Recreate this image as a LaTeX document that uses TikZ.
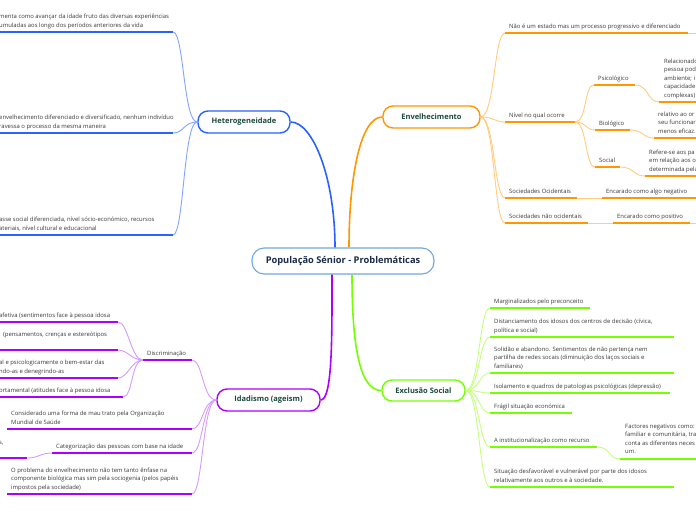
\documentclass[tikz,border=0pt]{standalone}
\usepackage{fontspec}
\setmainfont{Open Sans}
\definecolor{hetD}{HTML}{2962FF}
\definecolor{hetL}{HTML}{82A6FF}
\definecolor{envD}{HTML}{FF9800}
\definecolor{envL}{HTML}{FFCC80}
\definecolor{excD}{HTML}{76FF03}
\definecolor{excL}{HTML}{C6FF80}
\definecolor{idaD}{HTML}{AA00FF}
\definecolor{idaL}{HTML}{D69BFF}
\definecolor{leafT}{HTML}{3A3A3A}
\definecolor{mainT}{HTML}{1B4A3C}
\definecolor{cenT}{HTML}{1C2B4A}
\definecolor{cenB}{HTML}{6FA8DC}
\tikzset{
  leaf/.style={inner sep=0pt, anchor=base west, align=left, text=leafT,
    font=\fontsize{5.9}{8.5}\selectfont},
  mainnode/.style={draw, rounded corners=10pt, line width=1.4pt, fill=white,
    text=mainT, font=\fontsize{7.5}{9}\selectfont\bfseries, inner sep=0pt},
  hetU/.style={draw=hetD, line width=1.8pt},
  hetC/.style={draw=hetL, line width=0.9pt},
  envU/.style={draw=envD, line width=1.8pt},
  envC/.style={draw=envL, line width=0.9pt},
  excU/.style={draw=excD, line width=1.8pt},
  excC/.style={draw=excL, line width=0.9pt},
  idaU/.style={draw=idaD, line width=1.8pt},
  idaC/.style={draw=idaL, line width=0.9pt},
}
\newcommand\ul[5]{\coordinate (#1a) at (#2,#4); \coordinate (#1b) at (#3,#4); \draw[#5] (#1a) -- (#1b);}
\begin{document}
\begin{tikzpicture}[x=1pt,y=-1pt]
\useasboundingbox[fill=white] (0,0) rectangle (696,520);

% ---------- main nodes
\node[draw=cenB, line width=1.1pt, rounded corners=12pt, fill=white, minimum width=182pt, minimum height=26pt,
  inner sep=0pt, text=cenT, font=\fontsize{9.3}{11}\selectfont\bfseries] (cen) at (343,261) {População Sénior - Problemáticas};
\node[mainnode, draw=hetD, minimum width=92pt, minimum height=22pt] (het) at (244,122) {Heterogeneidade};
\node[mainnode, draw=envD, minimum width=97pt, minimum height=22pt] (env) at (431.5,117) {Envelhecimento};
\node[mainnode, draw=excD, minimum width=83pt, minimum height=21pt] (exc) at (423.5,390.5) {Exclusão Social};
\node[mainnode, draw=idaD, minimum width=103pt, minimum height=22pt] (ida) at (268.5,400) {Idadismo (ageism)};

% main connectors
\draw[draw=hetD, line width=1.6pt] (het.east) .. controls +(22,0) and +(0,-70) .. ([xshift=-8pt]cen.north);
\draw[draw=envD, line width=1.6pt] (env.west) .. controls +(-22,0) and +(0,-70) .. ([xshift=6pt]cen.north);
\draw[draw=idaD, line width=1.6pt] (ida.east) .. controls +(12,0) and +(0,60) .. ([xshift=-11pt]cen.south);
\draw[draw=excD, line width=1.6pt] (exc.west) .. controls +(-22,0) and +(0,70) .. ([xshift=9pt]cen.south);

% ---------- Heterogeneidade
\ul{h1}{0}{173}{32}{hetU}
\ul{h2}{0}{173}{133}{hetU}
\ul{h3}{0}{173}{235}{hetU}
\node[leaf] (h1t) at (-1,27) {menta como avançar da idade fruto das diversas experiências\\umuladas aos longo dos períodos anteriores da vida};
\node[leaf] (h2t) at (-1,128) {envelhecimento diferenciado e diversificado, nenhum indivíduo\\ravessa o processo da mesma maneira};
\node[leaf] (h3t) at (-1,230) {asse social diferenciada, nível sócio-económico, recursos\\ateriais, nível cultural e educacional};
\foreach \c in {h1b,h2b,h3b}
  \draw[hetC] (het.west) .. controls +(-14,0) and +(11,0) .. (\c);

% ---------- Envelhecimento
\ul{e1}{505}{688}{33}{envU}
\ul{e2}{505}{575}{122}{envU}
\ul{e3}{505}{577}{198}{envU}
\ul{e4}{505}{588}{223}{envU}
\coordinate (e1x) at (700,33);
\draw[envC] (e1b) -- (e1x);
\node[leaf] (e1t) at (509,28) {Não é um estado mas um processo progressivo e diferenciado};
\node[leaf] (e2t) at (509,117) {Nível no qual ocorre};
\node[leaf] (e3t) at (509,193) {Sociedades Ocidentais};
\node[leaf] (e4t) at (509,218) {Sociedades não ocidentais};
\foreach \c in {e1a,e2a,e3a,e4a}
  \draw[envC] (env.east) .. controls +(14,0) and +(-11,0) .. (\c);

\ul{ps}{594}{635}{85}{envU}
\ul{bi}{595}{630}{130}{envU}
\ul{so}{595}{620}{167}{envU}
\node[leaf] (pst) at (598,80) {Psicológico};
\node[leaf] (bit) at (599,125) {Biológico};
\node[leaf] (sot) at (599,162) {Social};
\foreach \c in {psa,bia,soa}
  \draw[envC] (e2b) .. controls +(12,0) and +(-10,0) .. (\c);

\ul{psl}{659}{700}{102}{envU}
\ul{bil}{654}{700}{138}{envU}
\ul{sol}{645}{700}{176}{envU}
\node[leaf] (pslt) at (664,97) {Relacionado\\pessoa pod\\ambiente; i\\capacidade\\complexas)};
\node[leaf] (bilt) at (658,133) {relativo ao or\\seu funcionar\\menos eficaz.};
\node[leaf] (solt) at (649,171) {Refere-se aos pa\\em relação aos o\\determinada pela};
\draw[envC] (psb) .. controls +(14,0) and +(-12,0) .. (psla);
\draw[envC] (bib) .. controls +(14,0) and +(-12,0) .. (bila);
\draw[envC] (sob) .. controls +(14,0) and +(-12,0) .. (sola);

\ul{e3l}{602}{696}{198}{envU}
\ul{e4l}{613}{690}{223}{envU}
\node[leaf] (e3lt) at (606,193) {Encarado como algo negativo};
\node[leaf] (e4lt) at (617,218) {Encarado como positivo};
\coordinate (e4x) at (700,223);
\draw[envC] (e3b) -- (e3la);
\draw[envC] (e4b) -- (e4la);
\draw[envC] (e4lb) -- (e4x);

% ---------- Exclusão Social
\ul{x1}{490}{590}{308}{excU}
\ul{x2}{490}{674}{337}{excU}
\ul{x3}{490}{674}{373}{excU}
\ul{x4}{490}{670}{393}{excU}
\ul{x5}{490}{572}{413}{excU}
\ul{x6}{490}{597}{447}{excU}
\ul{x7}{490}{674}{487}{excU}
\node[leaf] (x1t) at (494,303) {Marginalizados pelo preconceito};
\node[leaf] (x2t) at (494,332) {Distanciamento dos idosos dos centros de decisão (cívica,\\política e social)};
\node[leaf] (x3t) at (494,368) {Solidão e abandono. Sentimentos de não pertença nem\\partilha de redes socais (diminuição dos laços sociais e\\familiares)};
\node[leaf] (x4t) at (494,388) {Isolamento e quadros de patologias psicológicas (depressão)};
\node[leaf] (x5t) at (494,408) {Frágil situação económica};
\node[leaf] (x6t) at (494,442) {A institucionalização como recurso};
\node[leaf] (x7t) at (494,482) {Situação desfavorável e vulnerável por parte dos idosos\\relativamente aos outros e à sociedade.};
\foreach \c in {x1a,x2a,x3a,x4a,x5a,x6a,x7a}
  \draw[excC] (exc.east) .. controls +(14,0) and +(-11,0) .. (\c);
\ul{x6l}{620}{700}{459}{excU}
\node[leaf] (x6lt) at (625,453.5) {Factores negativos como:\\familiar e comunitária, tra\\conta as diferentes neces\\um.};
\draw[excC] (x6b) .. controls +(14,0) and +(-12,0) .. (x6la);

% ---------- Idadismo
\ul{i0}{143}{192}{360}{idaU}
\ul{i1}{7}{192}{429}{idaU}
\ul{i2}{52}{192}{453}{idaU}
\ul{i3}{7}{192}{494}{idaU}
\node[leaf] (i0t) at (147,355) {Discriminação};
\node[leaf] (i1t) at (11,424) {Considerado uma forma de mau trato pela Organização\\Mundial de Saúde};
\node[leaf] (i2t) at (56,448) {Categorização das pessoas com base na idade};
\node[leaf] (i3t) at (11,489) {O problema do envelhecimento não tem tanto ênfase na\\componente biológica mas sim pela sociogenia (pelos papéis\\impostos pela sociedade)};
\foreach \c in {i0b,i1b,i2b,i3b}
  \draw[idaC] (ida.west) .. controls +(-14,0) and +(11,0) .. (\c);

\ul{d1}{0}{118}{322}{idaU}
\ul{d2}{0}{118}{350}{idaU}
\ul{d3}{0}{118}{378}{idaU}
\ul{d4}{0}{123}{397}{idaU}
\node[leaf] (d1t) at (-1,317) {afetiva (sentimentos face à pessoa idosa};
\node[leaf] (d2t) at (3,336) {(pensamentos, crenças e estereótipos};
\node[leaf] (d3t) at (-1,373) {al e psicologicamente o bem-estar das\\ndo-as e denegrindo-as};
\node[leaf] (d4t) at (-1,392) {ortamental (atitudes face à pessoa idosa};
\foreach \c in {d1b,d2b,d3b,d4b}
  \draw[idaC] (i0a) .. controls +(-12,0) and +(10,0) .. (\c);

\ul{i2l}{0}{27}{458}{idaU}
\node[leaf] (i2lt) at (-1,444) {s,};
\draw[idaC] (i2a) .. controls +(-12,0) and +(12,0) .. (i2lb);
\end{tikzpicture}
\end{document}
